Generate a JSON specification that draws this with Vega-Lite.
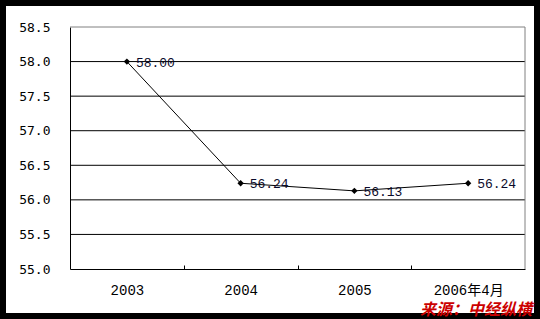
{
  "$schema": "https://vega.github.io/schema/vega-lite/v6.json",
  "width": 540,
  "height": 319,
  "autosize": {"type": "none"},
  "padding": 0,
  "background": "white",
  "config": {
    "view": {"stroke": "black", "strokeWidth": 12, "fill": "white"}
  },
  "datasets": {
    "series": [
      {"i": 0, "year": "2003", "value": 58.00, "label": "58.00"},
      {"i": 1, "year": "2004", "value": 56.24, "label": "56.24"},
      {"i": 2, "year": "2005", "value": 56.13, "label": "56.13"},
      {"i": 3, "year": "2006年4月", "value": 56.24, "label": "56.24"}
    ],
    "grid": [
      {"g": 55.5}, {"g": 56.0}, {"g": 56.5}, {"g": 57.0}, {"g": 57.5}, {"g": 58.0}
    ]
  },
  "layer": [
    {
      "data": {"name": "grid"},
      "mark": {"type": "rule", "color": "black", "strokeWidth": 1},
      "encoding": {
        "y": {
          "field": "g", "type": "quantitative", "title": null,
          "scale": {"domain": [55, 58.5], "range": [269, 27], "nice": false, "zero": false},
          "axis": {
            "orient": "left", "offset": -70, "grid": false, "ticks": false,
            "domain": true, "domainColor": "black", "domainWidth": 1,
            "values": [55, 55.5, 56, 56.5, 57, 57.5, 58, 58.5], "format": ".1f",
            "labelPadding": 20, "labelFont": "DejaVu Sans Mono", "labelFontSize": 13,
            "labelColor": "black", "title": null
          }
        },
        "x": {
          "datum": -0.5, "type": "quantitative", "title": null,
          "scale": {"domain": [-0.5, 3.5], "range": [70, 525], "nice": false, "zero": false},
          "axis": {
            "orient": "bottom", "offset": -50, "values": [0.5, 1.5, 2.5],
            "labels": false, "domain": false, "ticks": true, "tickSize": -4,
            "tickColor": "black", "grid": false, "title": null
          }
        },
        "x2": {"datum": 3.5}
      }
    },
    {
      "data": {"values": [{}]},
      "mark": {"type": "rule", "color": "#808080", "strokeWidth": 1},
      "encoding": {
        "y": {"datum": 58.5, "type": "quantitative", "title": null},
        "x": {"datum": -0.5, "type": "quantitative", "title": null, "axis": null},
        "x2": {"datum": 3.5}
      }
    },
    {
      "data": {"values": [{}]},
      "mark": {"type": "rule", "color": "#808080", "strokeWidth": 1},
      "encoding": {
        "x": {"datum": 3.5, "type": "quantitative", "title": null, "axis": null},
        "y": {"datum": 55, "type": "quantitative", "title": null},
        "y2": {"datum": 58.5}
      }
    },
    {
      "data": {"name": "series"},
      "mark": {"type": "line", "color": "black", "strokeWidth": 1},
      "encoding": {
        "x": {
          "field": "i", "type": "quantitative", "title": null,
          "axis": {
            "orient": "bottom", "offset": -50, "values": [0, 1, 2, 3],
            "labelExpr": "['2003','2004','2005','2006年4月'][datum.value]",
            "domain": true, "domainColor": "black", "domainWidth": 1,
            "ticks": false, "grid": false, "labelPadding": 14,
            "labelFont": "Liberation Mono, Noto Sans CJK SC", "labelFontSize": 14,
            "labelColor": "black", "title": null
          }
        },
        "y": {"field": "value", "type": "quantitative", "title": null}
      }
    },
    {
      "data": {"name": "series"},
      "mark": {"type": "point", "shape": "diamond", "filled": true, "color": "black", "size": 40, "opacity": 1},
      "encoding": {
        "x": {"field": "i", "type": "quantitative", "title": null, "axis": null},
        "y": {"field": "value", "type": "quantitative", "title": null}
      }
    },
    {
      "data": {"name": "series"},
      "mark": {"type": "text", "align": "left", "baseline": "middle", "dx": 9, "dy": 1,
               "font": "Liberation Mono", "fontSize": 13, "color": "#0a0a2a"},
      "encoding": {
        "x": {"field": "i", "type": "quantitative", "title": null, "axis": null},
        "y": {"field": "value", "type": "quantitative", "title": null},
        "text": {"field": "label"}
      }
    },
    {
      "data": {"values": [{}]},
      "mark": {"type": "text", "text": "来源：中经纵横", "align": "right", "baseline": "middle",
               "dx": 7, "font": "Noto Sans CJK SC", "fontSize": 16, "fontWeight": "bold",
               "fontStyle": "italic", "color": "#cc0000"},
      "encoding": {
        "x": {"datum": 3.5, "type": "quantitative", "title": null, "axis": null},
        "y": {"datum": 54.4, "type": "quantitative", "title": null}
      }
    }
  ],
  "resolve": {"axis": {"x": "independent"}}
}
